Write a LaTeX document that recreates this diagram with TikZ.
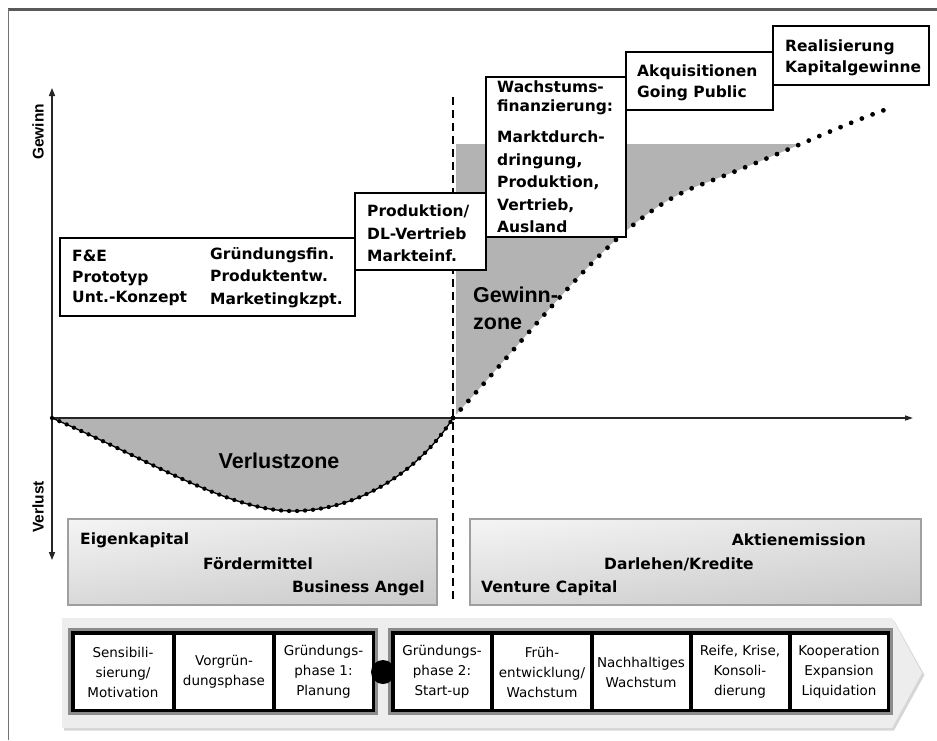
\documentclass[tikz,border=0pt]{standalone}
\usepackage{fontspec}
\setmainfont{DejaVu Sans}
\newfontfamily\arialf{Liberation Sans}
\usetikzlibrary{arrows.meta,shadings}
\definecolor{zonegray}{HTML}{B3B3B3}
\definecolor{bandgray}{HTML}{EDEDED}
\definecolor{framegray}{HTML}{8C8C8C}
\tikzset{
  stepbox/.style={draw=black, line width=2pt, fill=white},
  boxtext/.style={font=\bfseries\fontsize{15.5}{22.5}\selectfont, align=left, inner sep=0pt, anchor=west},
  fintext/.style={font=\bfseries\fontsize{15.5}{20}\selectfont, inner sep=0pt},
  phasetext/.style={font=\fontsize{13.5}{20}\selectfont, align=center, inner sep=0pt},
  phasebox/.style={fill=white},
  zonetext/.style={font=\arialf\bfseries\fontsize{21.5}{27}\selectfont, inner sep=0pt},
  axlabel/.style={font=\arialf\bfseries\fontsize{15.5}{18}\selectfont, inner sep=0pt, rotate=90},
  finbox/.style={draw=gray!75, line width=1.2pt},
  axis/.style={line width=1.5pt, color=black!85},
}
\begin{document}
\begin{tikzpicture}[x=1pt,y=-1pt]
\useasboundingbox (0,0) rectangle (937,740);
\fill[white] (0,0) rectangle (937,740);
% outer frame
\draw[line width=2.5pt, color=black!65] (8,9.5) -- (937,9.5);
\draw[line width=1.6pt, color=black!55] (8.5,9) -- (8.5,740);

% profit zone
\begin{scope}
\clip (456,144) rectangle (900,418);
\fill[zonegray] (453,418) .. controls (560,300) and (620,215) .. (700,185) .. controls (780,155) and (840,125) .. (893,107) -- (453,107) -- cycle;
\end{scope}
% loss zone
\fill[zonegray] (52,418) .. controls (150,460) and (230,512) .. (295,511) .. controls (360,510) and (420,470) .. (453,418) -- cycle;

% dashed divider
\draw[line width=2pt, dash pattern=on 8pt off 5pt] (453,97) -- (453,603);

% axes
\coordinate (ytop) at (52,88);
\coordinate (ybot) at (52,560);
\coordinate (org) at (52,418);
\coordinate (xend) at (913,418);
\draw[axis, {Triangle[length=8pt,width=6pt]}-{Triangle[length=8pt,width=6pt]}] (ybot) -- (ytop);
\draw[axis, -{Triangle[length=8pt,width=5pt]}] (org) -- (xend);

% loss curve
\draw[line width=1.3pt] (52,418) .. controls (150,460) and (230,512) .. (295,511) .. controls (360,510) and (420,470) .. (453,418);
\draw[line width=4.3pt, line cap=round, dash pattern=on 0pt off 8pt] (52,418) .. controls (150,460) and (230,512) .. (295,511) .. controls (360,510) and (420,470) .. (453,418);
% profit curve
\draw[line width=4.8pt, line cap=round, dash pattern=on 0pt off 11.5pt] (453,418) .. controls (560,300) and (620,215) .. (700,185) .. controls (780,155) and (840,125) .. (893,107);

% axis labels
\node[axlabel] (lgew) at (38,132) {Gewinn};
\node[axlabel] (lver) at (38,507) {Verlust};

% zone labels
\node[zonetext] (vz) at (279,461) {Verlustzone};
\node[zonetext, anchor=west, align=left, font=\arialf\bfseries\fontsize{21.5}{27}\selectfont] (gz) at (473,308) {Gewinn-\\zone};

% stage boxes
\draw[stepbox] (60,238) rectangle (355,316);
\draw[stepbox] (355,193) rectangle (486,270);
\draw[stepbox] (486,77) rectangle (626,237);
\draw[stepbox] (626,52) rectangle (773,110);
\draw[stepbox] (773,26) rectangle (929,85);

\node[boxtext, font=\bfseries\fontsize{15.5}{20.5}\selectfont] (t1a) at (72,278) {F\&E\\Prototyp\\Unt.-Konzept};
\node[boxtext] (t1b) at (210,277.5) {Gründungsfin.\\Produktentw.\\Marketingkzpt.};
\node[boxtext] (t2) at (367,233.5) {Produktion/\\DL-Vertrieb\\Markteinf.};
\node[boxtext, font=\bfseries\fontsize{15.5}{19}\selectfont] (t3a) at (497,97.5) {Wachstums-\\finanzierung:};
\node[boxtext] (t3b) at (497,182) {Marktdurch-\\dringung,\\Produktion,\\Vertrieb,\\Ausland};
\node[boxtext, font=\bfseries\fontsize{15.5}{21}\selectfont] (t4) at (637,82.5) {Akquisitionen\\Going Public};
\node[boxtext, font=\bfseries\fontsize{15.5}{21}\selectfont] (t5) at (785,57.5) {Realisierung\\Kapitalgewinne};

% financing boxes
\shade[upper left=gray!8, upper right=gray!22, lower left=gray!30, lower right=gray!42] (68,519) rectangle (437,605);
\draw[finbox] (68,519) rectangle (437,605);
\shade[upper left=gray!8, upper right=gray!22, lower left=gray!30, lower right=gray!42] (470,519) rectangle (921,605);
\draw[finbox] (470,519) rectangle (921,605);

\node[fintext, anchor=west] (f1) at (80,540) {Eigenkapital};
\node[fintext, anchor=west] (f2) at (203,564) {Fördermittel};
\node[fintext, anchor=east] (f3) at (425,588) {Business Angel};
\node[fintext, anchor=east] (f4) at (866,540) {Aktienemission};
\node[fintext, anchor=west] (f5) at (604,564) {Darlehen/Kredite};
\node[fintext, anchor=west] (f6) at (481,588) {Venture Capital};

% phase band
\fill[gray!32] (64,620.5) -- (894,620.5) -- (924.5,675) -- (894,730.5) -- (64,730.5) -- cycle;
\fill[bandgray] (62,618) -- (892,618) -- (922,673) -- (892,728) -- (62,728) -- cycle;

% left group
\fill[framegray] (68,628) rectangle (378,715);
\fill[black] (71,631) rectangle (375,712);
\fill[phasebox] (74.5,634.5) rectangle (172,708.5);
\fill[phasebox] (175.5,634.5) rectangle (272,708.5);
\fill[phasebox] (275.5,634.5) rectangle (371.5,708.5);
% right group
\fill[framegray] (388,628) rectangle (893,715);
\fill[black] (391,631) rectangle (890,712);
\fill[phasebox] (394.5,634.5) rectangle (490,708.5);
\fill[phasebox] (493.5,634.5) rectangle (590,708.5);
\fill[phasebox] (593.5,634.5) rectangle (689,708.5);
\fill[phasebox] (692.5,634.5) rectangle (788,708.5);
\fill[phasebox] (791.5,634.5) rectangle (886.5,708.5);
% junction
\fill[black] (383,672) circle[radius=12pt];

\node[phasetext] (p1) at (123,672) {Sensibili-\\sierung/\\Motivation};
\node[phasetext] (p2) at (224,672) {Vorgrün-\\dungsphase};
\node[phasetext] (p3) at (323.5,672) {Gründungs-\\phase 1:\\Planung};
\node[phasetext] (p4) at (442,672) {Gründungs-\\phase 2:\\Start-up};
\node[phasetext] (p5) at (542,672) {Früh-\\entwicklung/\\Wachstum};
\node[phasetext] (p6) at (641,672) {Nachhaltiges\\Wachstum};
\node[phasetext] (p7) at (740,672) {Reife, Krise,\\Konsoli-\\dierung};
\node[phasetext] (p8) at (839,672) {Kooperation\\Expansion\\Liquidation};
\end{tikzpicture}
\end{document}
